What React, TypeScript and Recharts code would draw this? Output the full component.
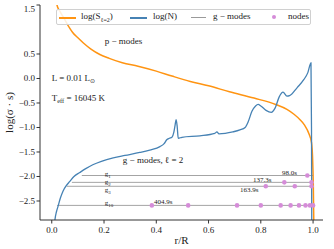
import React from "react"
import { ComposedChart, Line, Scatter, XAxis, YAxis } from "recharts"

// log(S_l=2) profile, r/R vs value
const lambR = [0.012, 0.02, 0.03, 0.04, 0.05, 0.065, 0.08, 0.1, 0.12, 0.15, 0.184, 0.22, 0.27, 0.33, 0.4, 0.46, 0.53, 0.6, 0.68, 0.774, 0.857, 0.9, 0.927, 0.95, 0.966, 0.985, 0.994, 0.998, 1.001, 1.003]
const lambV = [1.9, 1.5, 1.38, 1.29, 1.2, 1.06, 0.94, 0.83, 0.73, 0.6, 0.49, 0.41, 0.32, 0.25, 0.15, 0.05, -0.06, -0.15, -0.27, -0.4, -0.53, -0.63, -0.73, -0.84, -0.94, -1.14, -1.31, -1.6, -2.2, -3.0]

// log(N) profile
const bvR = [0.01, 0.012, 0.018, 0.024, 0.033, 0.043, 0.055, 0.069, 0.085, 0.107, 0.13, 0.157, 0.19, 0.235, 0.28, 0.337, 0.375, 0.414, 0.43, 0.44, 0.45, 0.46, 0.467, 0.472, 0.476, 0.48, 0.484, 0.498, 0.567, 0.624, 0.632, 0.64, 0.693, 0.72, 0.74, 0.752, 0.766, 0.78, 0.79, 0.8, 0.82, 0.84, 0.855, 0.87, 0.885, 0.9, 0.91, 0.94, 0.965, 0.98, 0.992, 0.994, 0.995]
const bvV = [-3.0, -2.89, -2.72, -2.61, -2.44, -2.3, -2.19, -2.1, -2.0, -1.92, -1.84, -1.76, -1.69, -1.62, -1.57, -1.51, -1.46, -1.39, -1.33, -1.25, -1.22, -1.2, -1.1, -0.95, -0.84, -0.98, -1.22, -1.2, -1.17, -1.12, -1.09, -1.13, -1.09, -1.05, -1.0, -0.88, -0.67, -0.56, -0.53, -0.56, -0.65, -0.69, -0.6, -0.38, -0.28, -0.36, -0.35, -0.18, -0.02, 0.12, 0.32, -1.0, -3.0]

// g modes
const modeOrder = ["1", "2", "3", "10"]
const modeLevel = [-1.98, -2.12, -2.2, -2.59]
const modeStart = [0.115, 0.077, 0.057, 0.02]
const modeEnd = 1.0
const modeNodes = [
    [0.978],
    [0.89, 0.994],
    [0.819, 0.93, 0.994],
    [0.383, 0.522, 0.709, 0.8, 0.876, 0.914, 0.946, 0.971, 0.988, 1.0],
]
const periodText = ["98.0s", "137.3s", "163.9s", "404.9s"]
const periodR = [0.881, 0.77, 0.72, 0.391]
const periodV = [-1.96, -2.12, -2.31, -2.57]
const nameR = 0.203
const nameV = [-2.0, -2.16, -2.31, -2.59]

const xTicks = [0, 0.2, 0.4, 0.6, 0.8, 1.0]
const yTicks = [-2.5, -2.0, -1.5, -1.0, -0.5, 0.0, 0.5, 1.0, 1.5]

const ORANGE = "#ff9412"
const BLUE = "#4682b4"
const GRAY = "#9a9a9a"
const NODE = "#d58cd8"
const FONT = "Liberation Serif"

const lambData = lambR.map((r, i) => ({ r, v: lambV[i] }))
const bvData = bvR.map((r, i) => ({ r, v: bvV[i] }))
const modeLines = modeLevel.map((v, i) => [{ r: modeStart[i], v }, { r: modeEnd, v }])
const nodeData = modeNodes.flatMap((list, i) => list.map((r) => ({ r, v: modeLevel[i] })))

const notes = [
    { r: 0.203, v: 0.7, text: "p − modes", sub: "", tail: "", size: 9 },
    { r: 0, v: -0.05, text: "L = 0.01 L", sub: "⊙", tail: "", size: 9 },
    { r: 0, v: -0.46, text: "T", sub: "eff", tail: " = 16045 K", size: 9 },
    { r: 0.272, v: -1.72, text: "g − modes, ℓ = 2", sub: "", tail: "", size: 9 },
    ...periodText.map((t, i) => ({ r: periodR[i], v: periodV[i], text: t, sub: "", tail: "", size: 7 })),
    ...modeOrder.map((n, i) => ({ r: nameR, v: nameV[i], text: "g", sub: n, tail: "", size: 7 })),
]

const fmt = (v: number) => v.toFixed(1).replace("-", "−")

const NoteShape = (props: any) => {
    const p = props.payload
    return (
        <text x={props.cx} y={props.cy} fontFamily={FONT} fontSize={p.size} fill="#222">
            {p.text}
            {p.sub && <tspan dy={2} fontSize={p.size * 0.7}>{p.sub}</tspan>}
            {p.tail && <tspan dy={-2}>{p.tail}</tspan>}
        </text>
    )
}

const XTick = (props: any) => (
    <text x={props.x} y={props.y + 8} textAnchor="middle" fontFamily={FONT} fontSize={9} fill="#222">
        {fmt(props.payload.value)}
    </text>
)

const YTick = (props: any) => (
    <text x={props.x} y={props.y + 3} textAnchor="end" fontFamily={FONT} fontSize={9} fill="#222">
        {fmt(props.payload.value)}
    </text>
)

const YLabel = (props: any) => {
    const vb = props.viewBox
    const cx = 9
    const cy = vb.y + vb.height / 2
    return (
        <text x={cx} y={cy} transform={`rotate(-90 ${cx} ${cy})`} textAnchor="middle" dominantBaseline="central" fontFamily={FONT} fontSize={11} fill="#222">
            log(σ · s)
        </text>
    )
}

const XLabel = (props: any) => {
    const vb = props.viewBox
    return (
        <text x={vb.x + vb.width / 2} y={244} textAnchor="middle" fontFamily={FONT} fontSize={11} fill="#222">
            r/R
        </text>
    )
}

export default function App() {
    return (
        <div style={{ position: "absolute", left: 0, top: 0, width: 334, height: 249, background: "#fff", fontFamily: FONT }}>
            <ComposedChart width={334} height={249} margin={{ top: 5, right: 11, bottom: 0, left: 0 }}>
                <XAxis xAxisId="b" type="number" dataKey="r" domain={[-0.045, 1.038]} ticks={xTicks}
                    allowDataOverflow height={29} stroke="#333" tickSize={3.5} tickMargin={1} tick={<XTick />} label={<XLabel />} />
                <XAxis xAxisId="t" orientation="top" type="number" dataKey="r" domain={[-0.045, 1.038]} allowDataOverflow height={0} tick={false} tickLine={false} stroke="#333" />
                <YAxis yAxisId="l" type="number" dataKey="v" domain={[-2.888, 1.5]} ticks={yTicks}
                    allowDataOverflow width={40} stroke="#333" tickSize={3.5} tickMargin={1.5} tick={<YTick />} label={<YLabel />} />
                <YAxis yAxisId="r" orientation="right" type="number" dataKey="v" domain={[-2.888, 1.5]} allowDataOverflow width={0} tick={false} tickLine={false} stroke="#333" />

                {modeLines.map((d, i) => (
                    <Line key={i} xAxisId="b" yAxisId="l" data={d} dataKey="v" type="linear" stroke={GRAY} strokeWidth={0.9} dot={false} isAnimationActive={false} />
                ))}
                <Line xAxisId="b" yAxisId="l" data={lambData} dataKey="v" type="monotone" stroke={ORANGE} strokeWidth={1.5} dot={false} isAnimationActive={false} />
                <Line xAxisId="b" yAxisId="l" data={bvData} dataKey="v" type="monotone" stroke={BLUE} strokeWidth={1.3} dot={false} isAnimationActive={false} />
                <Scatter xAxisId="b" yAxisId="l" data={nodeData} dataKey="v" fill={NODE} isAnimationActive={false}
                    shape={(p: any) => <circle cx={p.cx} cy={p.cy} r={2.3} fill={NODE} />} />
                <Scatter xAxisId="b" yAxisId="l" data={notes} dataKey="v" isAnimationActive={false} shape={NoteShape} />
            </ComposedChart>

            <div style={{ position: "absolute", left: 56, top: 9, width: 253, height: 14, border: "1px solid #d0d0d0", borderRadius: 2,
                background: "rgba(255,255,255,0.85)", fontFamily: FONT, fontSize: 9, color: "#222" }}>
                <div style={{ position: "absolute", left: 2, top: 7, width: 17, height: 1.5, background: ORANGE }} />
                <div style={{ position: "absolute", left: 24, top: 1 }}>log(S<sub style={{ fontSize: 6 }}>ℓ=2</sub>)</div>
                <div style={{ position: "absolute", left: 73, top: 7, width: 17, height: 1.5, background: BLUE }} />
                <div style={{ position: "absolute", left: 96, top: 1 }}>log(N)</div>
                <div style={{ position: "absolute", left: 134, top: 7, width: 15, height: 1, background: GRAY }} />
                <div style={{ position: "absolute", left: 156, top: 1 }}>g − modes</div>
                <div style={{ position: "absolute", left: 215, top: 5, width: 4, height: 4, borderRadius: 2, background: NODE }} />
                <div style={{ position: "absolute", left: 231, top: 1 }}>nodes</div>
            </div>
        </div>
    )
}
